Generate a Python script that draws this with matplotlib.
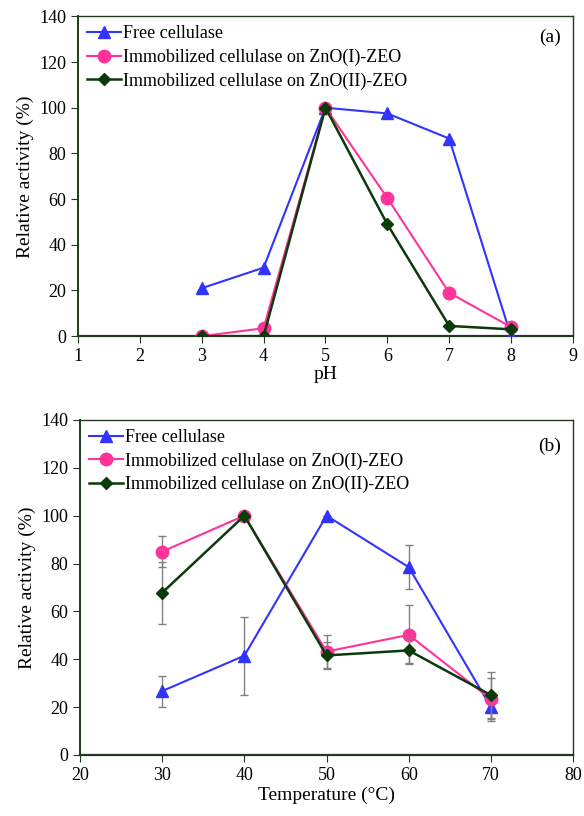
import matplotlib.pyplot as plt
import numpy as np

plt.rcParams['font.family'] = ['Liberation Serif', 'DejaVu Serif']
plt.rcParams['font.size'] = 13

BLUE = '#3333ff'
PINK = '#ff3399'
GREEN = '#0b3a0b'
SPINE = '#1f3a1f'

labels = ['Free cellulase', 'Immobilized cellulase on ZnO(I)-ZEO',
          'Immobilized cellulase on ZnO(II)-ZEO']

# (a) pH
ph = [3, 4, 5, 6, 7, 8]
ph_free = [21, 30, 100, 97.5, 86.5, 0]
ph_zno1 = [0, 3.5, 100, 60.5, 19, 4]
ph_zno2 = [0, 0, 100, 49, 4.5, 3]

# (b) temperature
temp = [30, 40, 50, 60, 70]
t_free = [26.7, 41.5, 100, 78.5, 20]
t_free_err = [6.5, 16.3, 0, 9.3, 5]
t_zno1 = [85, 100, 43.2, 50.2, 23.3]
t_zno1_err = [6.4, 0, 7, 12.3, 9]
t_zno2 = [67.8, 100, 41.6, 43.7, 25]
t_zno2_err = [13, 0, 5.5, 5.4, 9.5]


def style_axes(ax):
    for s in ax.spines.values():
        s.set_color(SPINE)
        s.set_linewidth(1.0)
    ax.spines['bottom'].set_linewidth(1.6)
    ax.spines['left'].set_linewidth(1.4)
    ax.tick_params(direction='out', length=5, color=SPINE, labelsize=13)
    ax.set_ylim(0, 140)
    ax.set_yticks(np.arange(0, 141, 20))


fig = plt.figure(figsize=(5.84, 8.16), dpi=100)

ax1 = fig.add_axes([0.1336, 0.588, 0.8474, 0.392])
ax1.plot(ph, ph_free, color=BLUE, marker='^', ms=9, lw=1.5, label=labels[0], zorder=3)
ax1.plot(ph, ph_zno1, color=PINK, marker='o', ms=9, lw=1.5, label=labels[1], zorder=4)
ax1.plot(ph, ph_zno2, color=GREEN, marker='D', ms=6, lw=1.8, label=labels[2], zorder=5)
ax1.set_xlim(1, 9)
ax1.set_xticks(range(1, 10))
style_axes(ax1)
ax1.set_xlabel('pH', fontsize=14, labelpad=1)
ax1.set_ylabel('Relative activity (%)', fontsize=14)
ax1.text(0.975, 0.935, '(a)', transform=ax1.transAxes, ha='right', va='center', fontsize=14)
ax1.legend(loc='upper left', frameon=False, fontsize=13, handlelength=1.9,
           handletextpad=0.1, labelspacing=0.35, borderaxespad=0.2, borderpad=0.3)

ax2 = fig.add_axes([0.137, 0.0748, 0.8443, 0.4105])
ekw = dict(ecolor='#808080', elinewidth=1.0, capsize=3, capthick=1.0)
ax2.errorbar(temp, t_free, yerr=t_free_err, color=BLUE, marker='^', ms=9, lw=1.5,
             label=labels[0], zorder=3, **ekw)
ax2.errorbar(temp, t_zno1, yerr=t_zno1_err, color=PINK, marker='o', ms=9, lw=1.5,
             label=labels[1], zorder=4, **ekw)
ax2.errorbar(temp, t_zno2, yerr=t_zno2_err, color=GREEN, marker='D', ms=6, lw=1.8,
             label=labels[2], zorder=5, **ekw)
ax2.set_xlim(20, 80)
ax2.set_xticks(range(20, 81, 10))
style_axes(ax2)
ax2.set_xlabel('Temperature (°C)', fontsize=14, labelpad=2)
ax2.set_ylabel('Relative activity (%)', fontsize=14)
ax2.text(0.975, 0.92, '(b)', transform=ax2.transAxes, ha='right', va='center', fontsize=14)
h, l = ax2.get_legend_handles_labels()
h = [x[0] for x in h]
ax2.legend(h, l, loc='upper left', frameon=False, fontsize=13, handlelength=1.9,
           handletextpad=0.1, labelspacing=0.35, borderaxespad=0.2, borderpad=0.3)

fig.savefig('out.png', dpi=100)
